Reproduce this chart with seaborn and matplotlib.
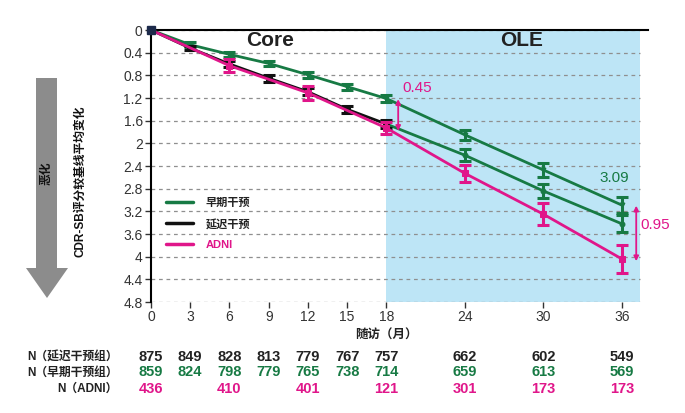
import numpy as np
import pandas as pd
import matplotlib
matplotlib.use("Agg")
import matplotlib.pyplot as plt
import seaborn as sns
from matplotlib.patches import Polygon
from matplotlib.lines import Line2D
from matplotlib import font_manager

# ---------------- data ----------------
months_all = [0, 3, 6, 9, 12, 15, 18, 24, 30, 36]
early_vals = [0, 0.26, 0.43, 0.59, 0.79, 1.00, 1.21, 1.85, 2.47, 3.09]
early_err = [0, 0.04, 0.05, 0.05, 0.05, 0.05, 0.06, 0.09, 0.13, 0.14]

months_core = [0, 3, 6, 9, 12, 15, 18]
delayed_core_vals = [0, 0.32, 0.60, 0.85, 1.09, 1.40, 1.66]
delayed_core_err = [0, 0.04, 0.05, 0.06, 0.06, 0.06, 0.07]

months_ole = [18, 24, 30, 36]
delayed_ole_vals = [1.66, 2.21, 2.84, 3.42]
delayed_ole_err = [0, 0.11, 0.12, 0.15]

months_adni = [0, 6, 12, 18, 24, 30, 36]
adni_vals = [0, 0.63, 1.11, 1.73, 2.53, 3.25, 4.04]
adni_err = [0, 0.11, 0.13, 0.10, 0.15, 0.19, 0.24]

n_delayed = ["875", "849", "828", "813", "779", "767", "757", "662", "602", "549"]
n_early = ["859", "824", "798", "779", "765", "738", "714", "659", "613", "569"]
n_adni = ["436", "410", "401", "121", "301", "173", "173"]

x_ticks = [0, 3, 6, 9, 12, 15, 18, 24, 30, 36]
y_ticks = [0, 0.4, 0.8, 1.2, 1.6, 2, 2.4, 2.8, 3.2, 3.6, 4, 4.4, 4.8]

GREEN = "#177a44"
BLACK = "#111111"
PINK = "#e0168a"
BLUE = "#bde5f6"

# ---------------- style ----------------
sns.set_theme(style="white")
plt.rcParams["font.family"] = ["Liberation Sans", "Noto Sans CJK SC"]
plt.rcParams["axes.unicode_minus"] = False
installed = {f.name for f in font_manager.fontManager.ttflist}
NUMFAM = ["Liberation Sans Narrow" if "Liberation Sans Narrow" in installed else "Liberation Sans",
          "Noto Sans CJK SC"]

W, H = 685, 413
fig = plt.figure(figsize=(W / 100, H / 100), dpi=100)
ax = fig.add_axes([151 / W, 1 - 302 / H, (648 - 151) / W, 272 / H])

ax.set_xlim(0, 38)
ax.set_ylim(4.8, 0)

ax.axvspan(18, 37.4, color=BLUE, zorder=0, lw=0)
ax.hlines(y_ticks, 0, 37.4, colors="#8f8f8f", linestyles=(0, (3, 3)), lw=0.9, zorder=1)

df_early = pd.DataFrame({"month": months_all, "val": early_vals})
df_dcore = pd.DataFrame({"month": months_core, "val": delayed_core_vals})
df_dole = pd.DataFrame({"month": months_ole, "val": delayed_ole_vals})
df_adni = pd.DataFrame({"month": months_adni, "val": adni_vals})

def draw(df, err, color, z, ms, marker):
    sns.lineplot(data=df, x="month", y="val", color=color, lw=2.0, ax=ax,
                 zorder=z, marker=marker, markersize=ms, markeredgecolor=color,
                 errorbar=None)
    ax.errorbar(df["month"][1:], df["val"][1:], yerr=np.array(err)[1:], fmt="none",
                ecolor=color, elinewidth=2.2, capsize=4, capthick=2.2, zorder=z)

draw(df_early, early_err, GREEN, 3, 3.5, "v")
draw(df_dole, delayed_ole_err, GREEN, 3, 3.5, "o")
draw(df_dcore, delayed_core_err, BLACK, 4, 4.5, "s")
draw(df_adni, adni_err, PINK, 5, 5, "s")
ax.plot([0], [0], marker="s", color="#1c2a4a", markersize=6, zorder=6, clip_on=False)

# spines / ticks
for s in ["right", "bottom"]:
    ax.spines[s].set_visible(False)
for s in ["top", "left"]:
    ax.spines[s].set_color("black")
    ax.spines[s].set_linewidth(1.5)
ax.set_xticks(x_ticks)
ax.set_yticks(y_ticks)
ax.set_yticklabels([f"{v:g}" for v in y_ticks])
ax.tick_params(axis="both", which="both", direction="out", length=4, width=1,
               color="#333333", labelsize=10, labelcolor="#333333", pad=2)
ax.tick_params(axis="x", bottom=True)
ax.tick_params(axis="y", left=True)
ax.set_xlabel("")
ax.set_ylabel("")

# region labels
ax.text(9.1, 0.19, "Core", ha="center", va="center", fontsize=15, fontweight="bold", color="#222222")
ax.text(28.3, 0.19, "OLE", ha="center", va="center", fontsize=15, fontweight="bold", color="#222222")

# difference annotations
ax.annotate("", xy=(18.9, 1.22), xytext=(18.9, 1.78),
            arrowprops=dict(arrowstyle="<|-|>", color=PINK, lw=1.3, mutation_scale=7, shrinkA=0, shrinkB=0))
ax.text(19.2, 1.02, "0.45", color=PINK, fontsize=11, ha="left", va="center")
ax.annotate("", xy=(37.1, 3.10), xytext=(37.1, 4.08),
            arrowprops=dict(arrowstyle="<|-|>", color=PINK, lw=1.3, mutation_scale=7, shrinkA=0, shrinkB=0),
            annotation_clip=False)
ax.text(37.4, 3.44, "0.95", color=PINK, fontsize=11, ha="left", va="center", clip_on=False)
ax.text(35.4, 2.61, "3.09", color=GREEN, fontsize=11, ha="center", va="center")

# legend
handles = [Line2D([], [], color=GREEN, lw=2.5),
           Line2D([], [], color=BLACK, lw=2.5),
           Line2D([], [], color=PINK, lw=2.5)]
leg = ax.legend(handles, ["早期干预", "延迟干预", "ADNI"], loc="upper left",
                bbox_to_anchor=(0.01, 0.42), frameon=False, fontsize=8,
                handlelength=2.4, labelspacing=0.95, handletextpad=1.2,
                labelcolor=["#222222", "#222222", PINK])
for t in leg.get_texts():
    t.set_fontweight("bold")

# x label and N table
tr = ax.get_xaxis_transform()
ax.text(18, -0.125, "随访（月）", transform=tr, ha="center", va="center",
        fontsize=9, fontweight="bold", color="#222222")
rows = [(-0.202, n_delayed, months_all, "#222222"),
        (-0.258, n_early, months_all, GREEN),
        (-0.32, n_adni, months_adni, PINK)]
for y, vals, ms, col in rows:
    for m, v in zip(ms, vals):
        ax.text(m, y, v, transform=tr, ha="center", va="center", fontsize=10.5,
                fontweight="bold", color=col, clip_on=False, family=NUMFAM)

fig.text(118 / W, 1 - 357 / H, "N（延迟干预组）", ha="right", va="center", fontsize=8.5,
         fontweight="bold", color="#222222")
fig.text(118 / W, 1 - 373 / H, "N（早期干预组）", ha="right", va="center", fontsize=8.5,
         fontweight="bold", color="#222222")
fig.text(118 / W, 1 - 389 / H, "N（ADNI）", ha="right", va="center", fontsize=8.5,
         fontweight="bold", color="#222222")

# y label and big arrow
fig.text(80 / W, 1 - 181 / H, "CDR-SB评分较基线平均变化", rotation=90, ha="center",
         va="center", fontsize=8.5, fontweight="bold", color="#111111")
pts_px = [(36, 78), (57, 78), (57, 268), (68, 268), (47, 298), (26, 268), (36, 268)]
pts = [(x / W, 1 - y / H) for x, y in pts_px]
fig.add_artist(Polygon(pts, closed=True, transform=fig.transFigure,
                       facecolor="#8c8c8c", edgecolor="none"))
fig.text(47 / W, 1 - 173 / H, "恶化", rotation=90, ha="center", va="center",
         fontsize=8.5, fontweight="bold", color="#111111")

fig.savefig("out.png", dpi=100)
